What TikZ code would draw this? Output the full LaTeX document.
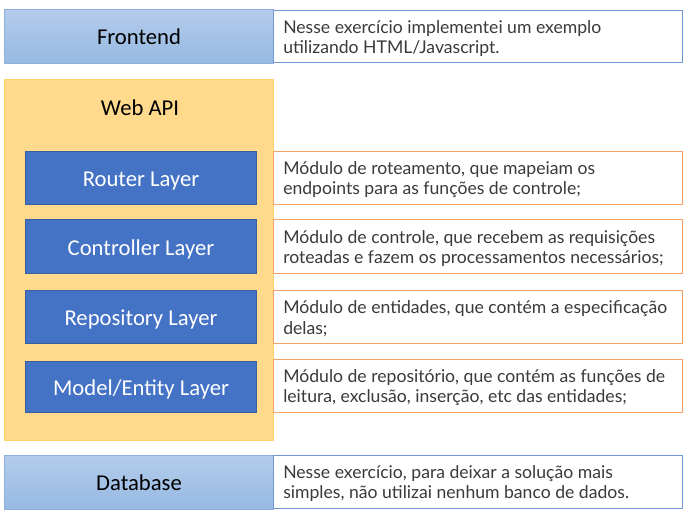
\documentclass[tikz,border=0pt]{standalone}
\usepackage{fontspec}
\setmainfont{Carlito}
\newfontfamily\descfont{Lato}
\definecolor{lblueTop}{HTML}{B4CCEA}
\definecolor{lblueBot}{HTML}{96B9E3}
\definecolor{lblueEdge}{HTML}{8FB0DD}
\definecolor{layerFill}{HTML}{4472C4}
\definecolor{layerEdge}{HTML}{3A5F9E}
\definecolor{apiFill}{HTML}{FFD98C}
\definecolor{apiEdge}{HTML}{FFD26E}
\definecolor{orangeEdge}{HTML}{F4A066}
\definecolor{blueEdge}{HTML}{7196D6}
\definecolor{descText}{HTML}{3A3A3A}
\tikzset{
  tierbox/.style={draw=lblueEdge, line width=0.8pt, top color=lblueTop, bottom color=lblueBot,
    minimum width=269*0.75pt, minimum height=54*0.75pt, inner sep=0pt, anchor=north west,
    font=\fontsize{17}{20}\selectfont, text=black},
  layerbox/.style={draw=layerEdge, line width=0.8pt, fill=layerFill,
    minimum width=231*0.75pt, minimum height=53*0.75pt, inner sep=0pt, anchor=north west,
    font=\fontsize{17}{20}\selectfont, text=white},
  descbox/.style={line width=1.1pt, fill=white, anchor=north west,
    minimum width=409*0.75pt, minimum height=53*0.75pt, inner sep=0pt},
  descblue/.style={descbox, draw=blueEdge},
  descorange/.style={descbox, draw=orangeEdge},
  desctext/.style={anchor=west, inner sep=0pt, align=left, text=descText,
    font=\descfont\fontsize{13.2}{15.2}\selectfont},
}
\newcommand{\lyr}[1]{\raisebox{-2pt}[\height][\depth]{#1}}
\begin{document}
\begin{tikzpicture}[x=0.75pt,y=-0.75pt]
\useasboundingbox (0,0) rectangle (688,518);
\fill[white] (0,0) rectangle (688,518);
% Web API background
\node[fill=apiFill, draw=apiEdge, line width=0.5pt, minimum width=269*0.75pt, minimum height=361*0.75pt,
  inner sep=0pt, anchor=north west] (api) at (4,79) {};
\node[font=\fontsize{17}{20}\selectfont, text=black] (apilabel) at (140,108) {Web API};
% tiers
\node[tierbox] (frontend) at (4,9) {Frontend};
\node[tierbox] (database) at (4,455) {Database};
% layers
\node[layerbox] (router) at (25,151) {\lyr{Router Layer}};
\node[layerbox, minimum height=54*0.75pt] (controller) at (25,219) {\lyr{Controller Layer}};
\node[layerbox] (repository) at (25,290) {\lyr{Repository Layer}};
\node[layerbox, minimum height=51*0.75pt] (model) at (25,361) {\lyr{Model/Entity Layer}};
% description boxes
\node[descblue, minimum height=52*0.75pt] (dfront) at (273,10) {};
\node[descorange] (drouter) at (273,151) {};
\node[descorange, minimum height=54*0.75pt] (dcontroller) at (273,219) {};
\node[descorange] (drepository) at (273,290) {};
\node[descorange] (dmodel) at (273,359) {};
\node[descblue] (ddatabase) at (273,455) {};
% description texts
\node[desctext] (tfront) at ([xshift=7.5pt,yshift=-1.2pt]dfront.west) {Nesse exercício implementei um exemplo\\utilizando HTML/Javascript.};
\node[desctext] (trouter) at ([xshift=7.5pt,yshift=-1.2pt]drouter.west) {Módulo de roteamento, que mapeiam os\\endpoints para as funções de controle;};
\node[desctext] (tcontroller) at ([xshift=7.5pt,yshift=-1.2pt]dcontroller.west) {Módulo de controle, que recebem as requisições\\roteadas e fazem os processamentos necessários;};
\node[desctext] (trepository) at ([xshift=7.5pt,yshift=-1.2pt]drepository.west) {Módulo de entidades, que contém a especificação\\delas;};
\node[desctext] (tmodel) at ([xshift=7.5pt,yshift=-1.2pt]dmodel.west) {Módulo de repositório, que contém as funções de\\leitura, exclusão, inserção, etc das entidades;};
\node[desctext] (tdatabase) at ([xshift=7.5pt,yshift=-1.2pt]ddatabase.west) {Nesse exercício, para deixar a solução mais\\simples, não utilizai nenhum banco de dados.};
\end{tikzpicture}
\end{document}
